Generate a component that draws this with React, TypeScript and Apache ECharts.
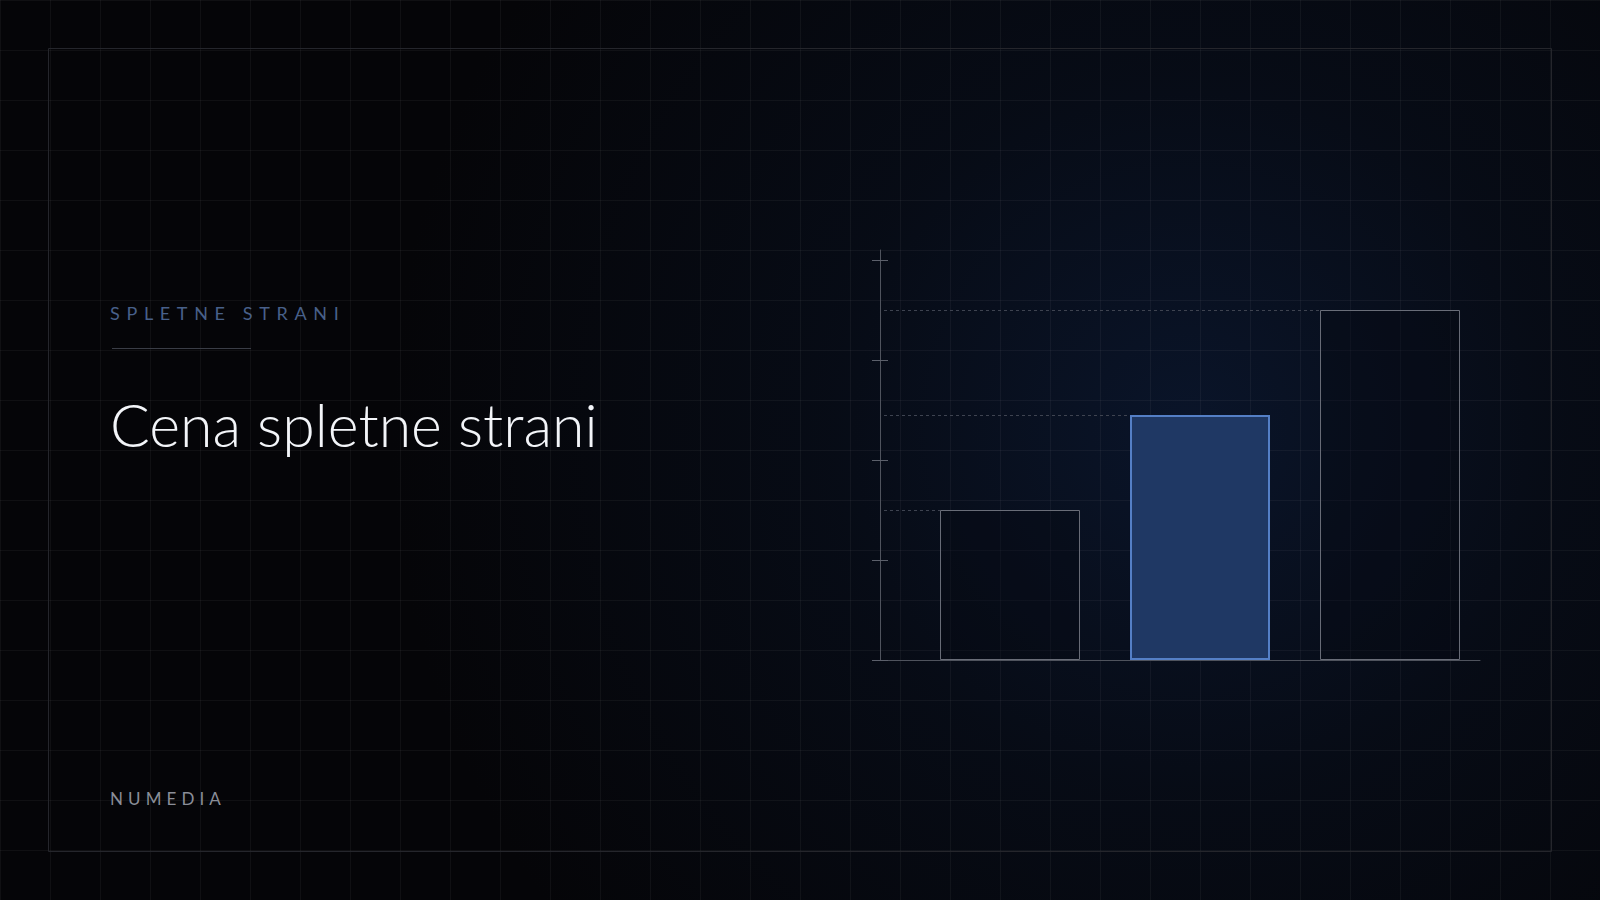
import React, { useEffect, useRef } from 'react';
import * as echarts from 'echarts';

const EYEBROW = 'SPLETNE STRANI';
const TITLE = 'Cena spletne strani';
const FOOTER = 'NUMEDIA';

// bar positions along the value x axis, and their prices
const BAR_POSITIONS = [1, 2, 3];
const PRICES = [1500, 2450, 3500];
const HIGHLIGHT_INDEX = 1;

const Y_MIN = 0;
const Y_MAX = 4100;
const Y_INTERVAL = 1000;
const Y_TICKS = [0, 1000, 2000, 3000, 4000];
const X_MIN = 0.3158;
const X_MAX = 3.4737;

const BAR_WIDTH = 140;

export default function App() {
  const ref = useRef<HTMLDivElement>(null);

  useEffect(() => {
    document.body.style.margin = '0';
    const chart = echarts.init(ref.current as HTMLDivElement, null, { renderer: 'svg' });

    const barData = BAR_POSITIONS.map((x, i) => ({
      value: [x, PRICES[i]],
      itemStyle:
        i === HIGHLIGHT_INDEX
          ? { color: '#1f3864', borderColor: '#547fc6', borderWidth: 2 }
          : { color: 'rgba(6,9,18,0.35)', borderColor: '#696d78', borderWidth: 1 },
    }));
    const guideData = BAR_POSITIONS.map((x, i) => [x, PRICES[i]]);

    const axisColor = '#4f535d';
    const tickColor = '#5c606b';

    chart.setOption({
      animation: false,
      backgroundColor: 'transparent',
      grid: { left: 880, top: 250, width: 600, height: 410 },
      xAxis: {
        type: 'value',
        min: X_MIN,
        max: X_MAX,
        axisLine: { show: true, onZero: false, lineStyle: { color: axisColor, width: 1 } },
        axisTick: { show: false },
        axisLabel: { show: false },
        splitLine: { show: false },
      },
      yAxis: [
        {
          type: 'value',
          position: 'left',
          min: Y_MIN,
          max: Y_MAX,
          interval: Y_INTERVAL,
          axisLine: { show: true, lineStyle: { color: axisColor, width: 1 } },
          axisTick: { show: true, length: 8, customValues: Y_TICKS, lineStyle: { color: tickColor } },
          axisLabel: { show: false },
          splitLine: { show: false },
        },
        {
          type: 'value',
          position: 'left',
          min: Y_MIN,
          max: Y_MAX,
          interval: Y_INTERVAL,
          axisLine: { show: false },
          axisTick: { show: true, inside: true, length: 8, customValues: Y_TICKS, lineStyle: { color: tickColor } },
          axisLabel: { show: false },
          splitLine: { show: false },
        },
      ],
      series: [
        {
          type: 'custom',
          silent: true,
          z: 1,
          data: guideData,
          renderItem: (params: any, api: any) => {
            const x = api.value(0);
            const y = api.value(1);
            const start = api.coord([X_MIN, y]);
            const end = api.coord([x, y]);
            const yy = Math.round(start[1]) + 0.5;
            return {
              type: 'line',
              shape: { x1: start[0] + 4, y1: yy, x2: end[0] - BAR_WIDTH / 2, y2: yy },
              style: { stroke: '#3e4350', lineWidth: 1, lineDash: [3, 3] },
            };
          },
        },
        {
          type: 'bar',
          z: 2,
          barWidth: BAR_WIDTH,
          data: barData,
          silent: true,
        },
      ],
      graphic: [
        {
          type: 'rect',
          silent: true,
          z: -10,
          shape: { x: 48.5, y: 48.5, width: 1503, height: 803 },
          style: { fill: 'none', stroke: '#25262c', lineWidth: 1 },
        },
        {
          type: 'line',
          silent: true,
          shape: { x1: 112, y1: 348.5, x2: 251, y2: 348.5 },
          style: { stroke: '#3a3d46', lineWidth: 1 },
        },
        {
          type: 'text',
          silent: true,
          x: 110,
          y: 424,
          style: {
            text: TITLE,
            fontFamily: 'Lato',
            fontWeight: 300,
            fontSize: 59,
            fill: '#f3f5f9',
            verticalAlign: 'middle',
            align: 'left',
          },
        },
      ],
    });

    return () => {
      chart.dispose();
    };
  }, []);

  return (
    <div
      style={{
        position: 'fixed',
        left: 0,
        top: 0,
        width: 1600,
        height: 900,
        overflow: 'hidden',
        backgroundColor: '#050508',
        backgroundImage:
          'linear-gradient(rgba(255,255,255,0.045) 1px, transparent 1px), ' +
          'linear-gradient(90deg, rgba(255,255,255,0.045) 1px, transparent 1px), ' +
          'radial-gradient(circle 800px at 1190px 430px, rgba(13,30,62,0.62) 0%, rgba(10,22,44,0.38) 45%, rgba(6,8,14,0) 100%)',
        backgroundSize: '50px 50px, 50px 50px, 100% 100%',
      }}
    >
      <div ref={ref} style={{ position: 'absolute', left: 0, top: 0, width: 1600, height: 900 }} />
      <div
        style={{
          position: 'absolute',
          left: 110,
          top: 304,
          fontFamily: 'Lato',
          fontSize: 18,
          lineHeight: '18px',
          letterSpacing: '0.37em',
          color: '#48608a',
          whiteSpace: 'nowrap',
        }}
      >
        {EYEBROW}
      </div>
      <div
        style={{
          position: 'absolute',
          left: 110,
          top: 790,
          fontFamily: 'Lato',
          fontSize: 17,
          lineHeight: '17px',
          letterSpacing: '0.3em',
          color: '#8a8e98',
          whiteSpace: 'nowrap',
        }}
      >
        {FOOTER}
      </div>
    </div>
  );
}
